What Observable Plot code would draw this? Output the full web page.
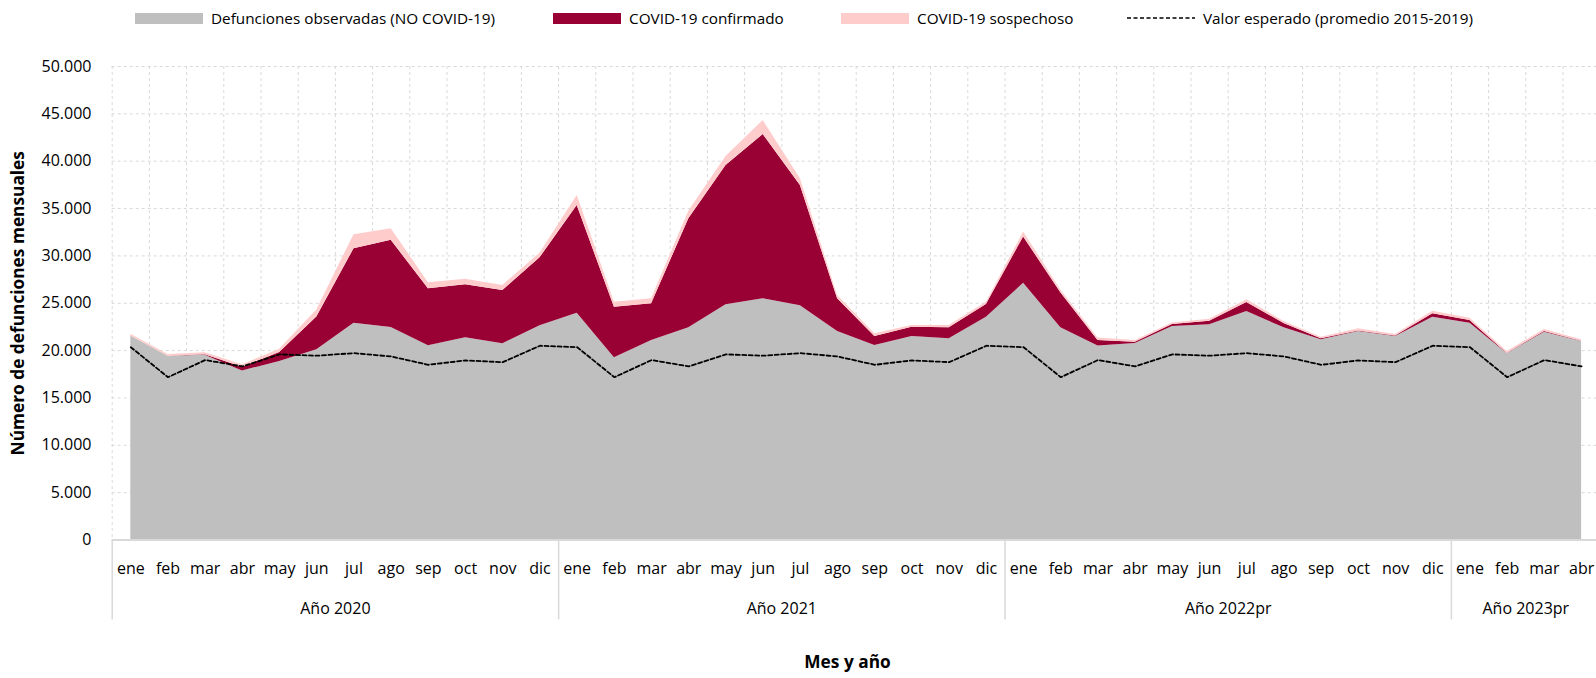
<!DOCTYPE html>
<html>
<head>
<meta charset="utf-8">
<script src="https://cdn.jsdelivr.net/npm/d3@7"></script>
<script src="https://cdn.jsdelivr.net/npm/@observablehq/plot@0.6"></script>
<style>
  body { margin: 0; background: #fff; font-family: "Open Sans", "Noto Sans", sans-serif; }
  #wrap { position: relative; width: 1596px; height: 678px; overflow: hidden; }
  #chart { position: absolute; left: 0; top: 0; }
  .leg { position: absolute; top: 8px; height: 20px; display: flex; align-items: center; white-space: nowrap; font-size: 15.3px; color: #000; }
  .sw { display: inline-block; width: 68px; height: 11px; margin-right: 8px; }
  .leg svg { margin-right: 8px; }
</style>
</head>
<body>
<div id="wrap">
  <div id="chart"></div>
  <div class="leg" style="left:135px"><span class="sw" style="background:#bfbfbf"></span>Defunciones observadas (NO COVID-19)</div>
  <div class="leg" style="left:553px"><span class="sw" style="background:#990033"></span>COVID-19 confirmado</div>
  <div class="leg" style="left:841px"><span class="sw" style="background:#ffcccc"></span>COVID-19 sospechoso</div>
  <div class="leg" style="left:1127px"><svg width="68" height="4"><line x1="0" y1="2" x2="68" y2="2" stroke="#000" stroke-width="1.6" stroke-dasharray="4,2.5"/></svg>Valor esperado (promedio 2015-2019)</div>
</div>
<script>
// ---- Data ----
const months = ["ene","feb","mar","abr","may","jun","jul","ago","sep","oct","nov","dic"];
const yearLabels = ["Año 2020","Año 2021","Año 2022pr","Año 2023pr"];
const yearMonthCounts = [12, 12, 12, 4];

const seriesNames = ["Defunciones observadas (NO COVID-19)", "COVID-19 confirmado", "COVID-19 sospechoso"];
const seriesColors = ["#bfbfbf", "#990033", "#ffcccc"];

// Defunciones observadas (NO COVID-19), ene 2020 .. abr 2023
const nonCovid = [
  21550, 19400, 19500, 17850, 18850, 20100, 22900, 22450, 20500, 21350, 20720, 22620,
  23950, 19240, 21070, 22410, 24840, 25470, 24730, 22020, 20540, 21490, 21245, 23530,
  27100, 22410, 20480, 20750, 22545, 22720, 24130, 22400, 21140, 22020, 21490, 23530,
  22900, 19660, 21950, 20960
];
// COVID-19 confirmado
const covidConfirmed = [
  0, 0, 60, 400, 950, 3450, 7850, 9200, 6030, 5600, 5630, 7180,
  11370, 5340, 3870, 11510, 14710, 17350, 12700, 3450, 950, 985, 1160, 1340,
  4900, 3700, 590, 140, 200, 380, 950, 470, 100, 60, 50, 350,
  280, 40, 60, 40
];
// COVID-19 sospechoso
const covidSuspected = [
  180, 180, 200, 250, 350, 750, 1480, 1230, 630, 590, 530, 490,
  1060, 530, 530, 800, 950, 1480, 710, 350, 285, 175, 245, 240,
  520, 290, 260, 170, 180, 200, 300, 200, 180, 220, 160, 270,
  240, 200, 220, 140
];
// Valor esperado (promedio 2015-2019)
const expected = [
  20360, 17190, 19000, 18330, 19600, 19460, 19730, 19380, 18500, 18960, 18780, 20510,
  20360, 17190, 19000, 18330, 19600, 19460, 19730, 19380, 18500, 18960, 18780, 20510,
  20360, 17190, 19000, 18330, 19600, 19460, 19730, 19380, 18500, 18960, 18780, 20510,
  20360, 17190, 19000, 18330
];
const yTicks = [0, 5000, 10000, 15000, 20000, 25000, 30000, 35000, 40000, 45000, 50000];

// ---- Derived tables ----
const idx = d3.range(nonCovid.length);
const stacked = [];
const seriesValues = [nonCovid, covidConfirmed, covidSuspected];
seriesNames.forEach((s, k) => idx.forEach(i => stacked.push({i, s, v: seriesValues[k][i]})));
const expectedRows = idx.map(i => ({i, v: expected[i]}));

const yearStarts = [];
const yearCenters = [];
let acc = 0;
yearMonthCounts.forEach(n => { yearStarts.push(acc - 0.5); yearCenters.push(acc + (n - 1) / 2); acc += n; });
const bounds = d3.range(0, idx.length).map(i => i - 0.5);

const locale = d3.formatLocale({decimal: ",", thousands: ".", grouping: [3], currency: ["", ""]});
const fmt = locale.format(",");

const font = '"Open Sans", "Noto Sans", sans-serif';
const grid = "#d9d9d9";

const chart = Plot.plot({
  width: 1596,
  height: 678,
  marginTop: 66,
  marginBottom: 138.5,
  marginLeft: 112,
  marginRight: 0,
  style: {fontFamily: font, fontSize: "16px", color: "#000", background: "transparent"},
  x: {type: "linear", domain: [-0.5, idx.length - 0.5], range: [111.7, 111.7 + 37.2 * idx.length], axis: null},
  y: {domain: [0, 50000], range: [539.5, 66], axis: null},
  color: {domain: seriesNames, range: seriesColors},
  marks: [
    Plot.ruleY(yTicks.filter(d => d > 0), {x1: -0.5, x2: idx.length - 0.5, stroke: grid, strokeDasharray: "3,3", strokeWidth: 1}),
    Plot.ruleX(bounds, {stroke: grid, strokeDasharray: "3,3", strokeWidth: 1}),
    Plot.areaY(stacked, {x: "i", y: "v", fill: "s", z: "s"}),
    Plot.line(expectedRows, {x: "i", y: "v", stroke: "#000", strokeWidth: 1.8, strokeDasharray: "4,2.5"}),
    Plot.ruleY([0], {x1: -0.5, x2: idx.length - 0.5, stroke: grid, strokeWidth: 2}),
    Plot.ruleX(yearStarts, {stroke: grid, strokeWidth: 1.5, insetTop: 473.5, insetBottom: -80}),
    Plot.text(yTicks, {y: d => d, text: d => fmt(d), frameAnchor: "left", dx: -21, textAnchor: "end", fontSize: 16}),
    Plot.text(idx, {x: d => d, text: d => months[d % 12], frameAnchor: "bottom", dy: 34, fontSize: 16}),
    Plot.text(yearLabels, {x: (d, i) => yearCenters[i], text: d => d, frameAnchor: "bottom", dy: 74, fontSize: 16}),
    Plot.text(["Mes y año"], {frameAnchor: "bottom", dx: -7, dy: 128, fontWeight: "bold", fontSize: 17.3}),
    Plot.text(["Número de defunciones mensuales"], {frameAnchor: "left", dx: -94, dy: 0, rotate: -90, textAnchor: "middle", fontWeight: "bold", fontSize: 17.3})
  ]
});
document.getElementById("chart").appendChild(chart);
</script>
</body>
</html>
